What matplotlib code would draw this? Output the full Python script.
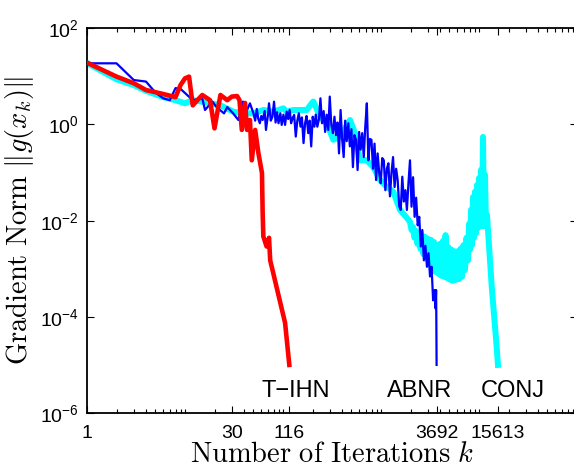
import matplotlib
matplotlib.use("Agg")
import matplotlib.pyplot as plt
from matplotlib.ticker import FixedLocator, LogLocator, NullFormatter, FixedFormatter

plt.rcParams['font.family'] = ['Liberation Sans', 'DejaVu Sans']
plt.rcParams['mathtext.fontset'] = 'custom'
plt.rcParams['mathtext.rm'] = 'Liberation Sans'
plt.rcParams['mathtext.it'] = 'Liberation Sans:italic'

# ---- data ----
tihn_k = [1, 2, 3, 4, 6, 8, 9, 10, 11, 12, 13, 15, 18, 20, 23, 27, 30, 34, 36, 38,
          41, 43, 46, 48, 52, 56, 61, 62, 63, 68, 72, 74, 105, 116]
tihn_g = [19.3, 9.9, 7.2, 5.2, 4.3, 3.7, 6.6, 9.1, 9.9, 2.5, 3.0, 4.1, 3.2, 0.83, 4.1, 3.2,
          3.8, 3.9, 3.2, 0.77, 2.8, 0.77, 1.24, 0.18, 0.77, 0.26, 0.098, 0.0145, 0.0047,
          0.0029, 0.0044, 0.0015, 7.5e-5, 1e-5]

abnr_k = [1, 2, 3, 4, 5, 6, 7, 8, 9, 10, 12, 15, 16, 19, 21, 25, 27, 31, 35, 39, 43, 46,
          50, 52, 54, 56, 58, 60, 62, 65, 67, 70, 72, 75, 78, 81, 84, 87, 90, 94, 97, 101,
          105, 109, 113, 117, 121, 126, 130, 135, 140, 145, 151, 156, 162, 168, 174, 181,
          187, 194, 201, 209, 216, 224, 233, 241, 250, 260, 269, 279, 290, 300, 311, 323,
          335, 347, 360, 373, 387, 401, 416, 431, 447, 464, 481, 499, 517, 536, 556, 577,
          598, 620, 643, 667, 691, 717, 743, 771, 799, 829, 859, 891, 924, 958, 993, 1030,
          1068, 1107, 1148, 1190, 1234, 1280, 1327, 1376, 1427, 1479, 1534, 1590, 1649,
          1710, 1773, 1838, 1906, 1976, 2049, 2125, 2203, 2284, 2369, 2456, 2547, 2641,
          2738, 2839, 2944, 3053, 3165, 3282, 3403, 3529, 3600, 3650, 3670, 3682, 3692]
abnr_g = [18.7, 18.7, 8.4, 7.8, 4.6, 3.5, 3.2, 5.7, 5.5, 4.5, 3.2, 3.5, 2.0, 3.0, 2.3, 1.7,
          2.3, 1.7, 1.24, 3.0, 2.0, 2.75,
          1.7, 1.2, 2.1, 1.3, 1.06, 1.5, 1.24, 1.9, 0.77, 1.5, 2.76, 1.2, 1.45, 2.98, 1.1,
          1.8, 1.06, 1.71, 0.98, 1.6, 0.98, 1.85, 1.3, 2.0, 1.06, 1.4, 1.58, 0.56, 1.2,
          1.71, 0.9, 1.4, 0.41, 1.06, 1.5, 0.66, 1.2, 0.35, 1.45, 0.9, 1.6, 0.9, 1.3, 3.5,
          1.06, 1.9, 0.7, 1.6, 0.77, 3.8, 1.0, 0.66, 1.45, 0.6, 1.1, 0.25, 2.0, 0.5, 0.21,
          1.2, 0.45, 1.06, 0.35, 0.8, 0.13, 0.6, 0.48, 0.113, 0.7, 0.3, 0.66, 0.21, 0.9,
          2.76, 0.18, 0.5, 0.48, 0.12, 0.4, 0.070, 0.25, 0.1, 0.060, 0.2, 0.18, 0.043, 0.12,
          0.156, 0.032, 0.1, 0.21, 0.05, 0.12, 0.07, 0.02, 0.0167, 0.082, 0.025, 0.043,
          0.0167, 0.06, 0.18, 0.0195, 0.08, 0.012, 0.03, 0.008, 0.012, 0.0029, 0.0064,
          0.0015, 0.003, 0.0011, 0.0021, 6.9e-4, 0.0011, 2.2e-4, 3.6e-4, 1.5e-4, 3.6e-4,
          8.6e-5, 1.8e-5, 1e-5]

conj_k = [1, 2, 3, 4, 6, 8, 10, 12, 17, 23, 31, 39, 50, 63, 80, 101, 109, 127, 138, 175,
          196, 204, 239, 279, 326, 382, 440, 483, 543, 611, 715, 834, 977, 1140, 1336,
          1563, 1800,
          1977, 2048, 2121, 2197, 2276, 2357, 2442, 2530, 2620, 2714, 2812, 2913, 3017,
          3126, 3238, 3354, 3474, 3599, 3728, 3862, 4000, 4144, 4293, 4446, 4552, 4716,
          4885, 5060, 5242, 5429, 5623, 5825, 6034, 6250, 6474, 6706, 6947, 7196, 7454,
          7722, 7907, 8093, 8286, 8483, 8685, 8892, 9104, 9320, 9541, 9768, 10000, 10238,
          10481, 10730, 10985, 11247, 11515, 11789, 12070, 13490, 15140, 15613]
conj_g = [19.0, 8.7, 6.6, 5.0, 3.7, 3.2, 2.75, 3.2, 2.84, 2.5, 1.85, 1.7, 1.7, 2.0, 1.85,
          2.17, 1.85, 2.0, 2.0, 2.0, 2.75, 3.0, 1.45, 1.06, 0.48, 0.56, 0.9, 1.24, 0.66,
          0.18, 0.18, 0.13, 0.07, 0.051, 0.04, 0.0167, 0.012,
          0.0094, 0.0064, 0.0074, 0.0044, 0.0061, 0.0033, 0.0055, 0.0026, 0.0050, 0.0020,
          0.0046, 0.0016, 0.0042, 0.00126, 0.0040, 0.00104, 0.0036, 8.6e-4, 0.0031, 7.8e-4,
          0.0033, 7.1e-4, 0.0038, 6.8e-4, 0.0050, 6.4e-4, 0.0028, 5.9e-4, 0.0025, 5.6e-4,
          0.0023, 5.9e-4, 0.0023, 6.1e-4, 0.0026, 6.8e-4, 0.0031, 9.4e-4, 0.0044, 0.0015,
          0.0085, 0.0025, 0.0167, 0.0031, 0.031, 0.0044, 0.040, 0.0055, 0.055, 0.0070,
          0.077, 0.0078, 0.113, 0.0078, 0.55, 0.0078, 0.089, 0.0078, 0.0131, 4.2e-4,
          2.4e-5, 1e-5]

xticks = [1, 30, 116, 3692, 15613]
xticklabels = ['1', '30', '116', '3692', '15613']
yticks = [1e-6, 1e-4, 1e-2, 1e0, 1e2]
yticklabels = [r'$10^{-6}$', r'$10^{-4}$', r'$10^{-2}$', r'$10^{0}$', r'$10^{2}$']
method_names = ['T\u2212IHN', 'ABNR', 'CONJ']

# ---- figure ----
fig = plt.figure(figsize=(5.74, 4.68), dpi=100)
ax = fig.add_axes([87/574, 1 - 413/468, 490/574, (413 - 28.3)/468])

ax.plot(conj_k, conj_g, color=(0, 1, 1), lw=4.3, zorder=2)
ax.plot(abnr_k, abnr_g, color=(0, 0, 1), lw=1.6, zorder=3)
ax.plot(tihn_k, tihn_g, color=(1, 0, 0), lw=3.3, zorder=4)

ax.set_xscale('log')
ax.set_yscale('log')
ax.set_xlim(1, 1e5)
ax.set_ylim(1e-6, 1e2)

ax.xaxis.set_major_locator(FixedLocator(xticks))
ax.xaxis.set_major_formatter(FixedFormatter(xticklabels))
ax.xaxis.set_minor_locator(LogLocator(base=10, subs=range(1, 10), numticks=100))
ax.xaxis.set_minor_formatter(NullFormatter())
ax.yaxis.set_major_locator(FixedLocator(yticks))
ax.yaxis.set_major_formatter(FixedFormatter(yticklabels))
ax.yaxis.set_minor_locator(FixedLocator([]))

ax.tick_params(which='both', direction='in', top=True, right=True, width=0.8,
               labelsize=14, colors='black')
ax.tick_params(which='major', length=5)
ax.tick_params(which='minor', length=3)
ax.tick_params(axis='x', pad=9)
ax.tick_params(axis='y', pad=6)
for s in ax.spines.values():
    s.set_linewidth(1.3)

ax.set_xlabel(r'$\mathrm{Number\ of\ Iterations}\ k$', fontsize=20.5, math_fontfamily='cm',
              labelpad=0)
ax.set_ylabel(r'$\mathrm{Gradient\ Norm}\ \|g(x_k)\|$', fontsize=20.5, math_fontfamily='cm',
              labelpad=3)

ax.text(136, 2.2e-6, method_names[0], fontsize=17, ha='center', va='baseline')
ax.text(2500, 2.2e-6, method_names[1], fontsize=17, ha='center', va='baseline')
ax.text(22200, 2.2e-6, method_names[2], fontsize=17, ha='center', va='baseline')

fig.savefig('out.png', dpi=100)
